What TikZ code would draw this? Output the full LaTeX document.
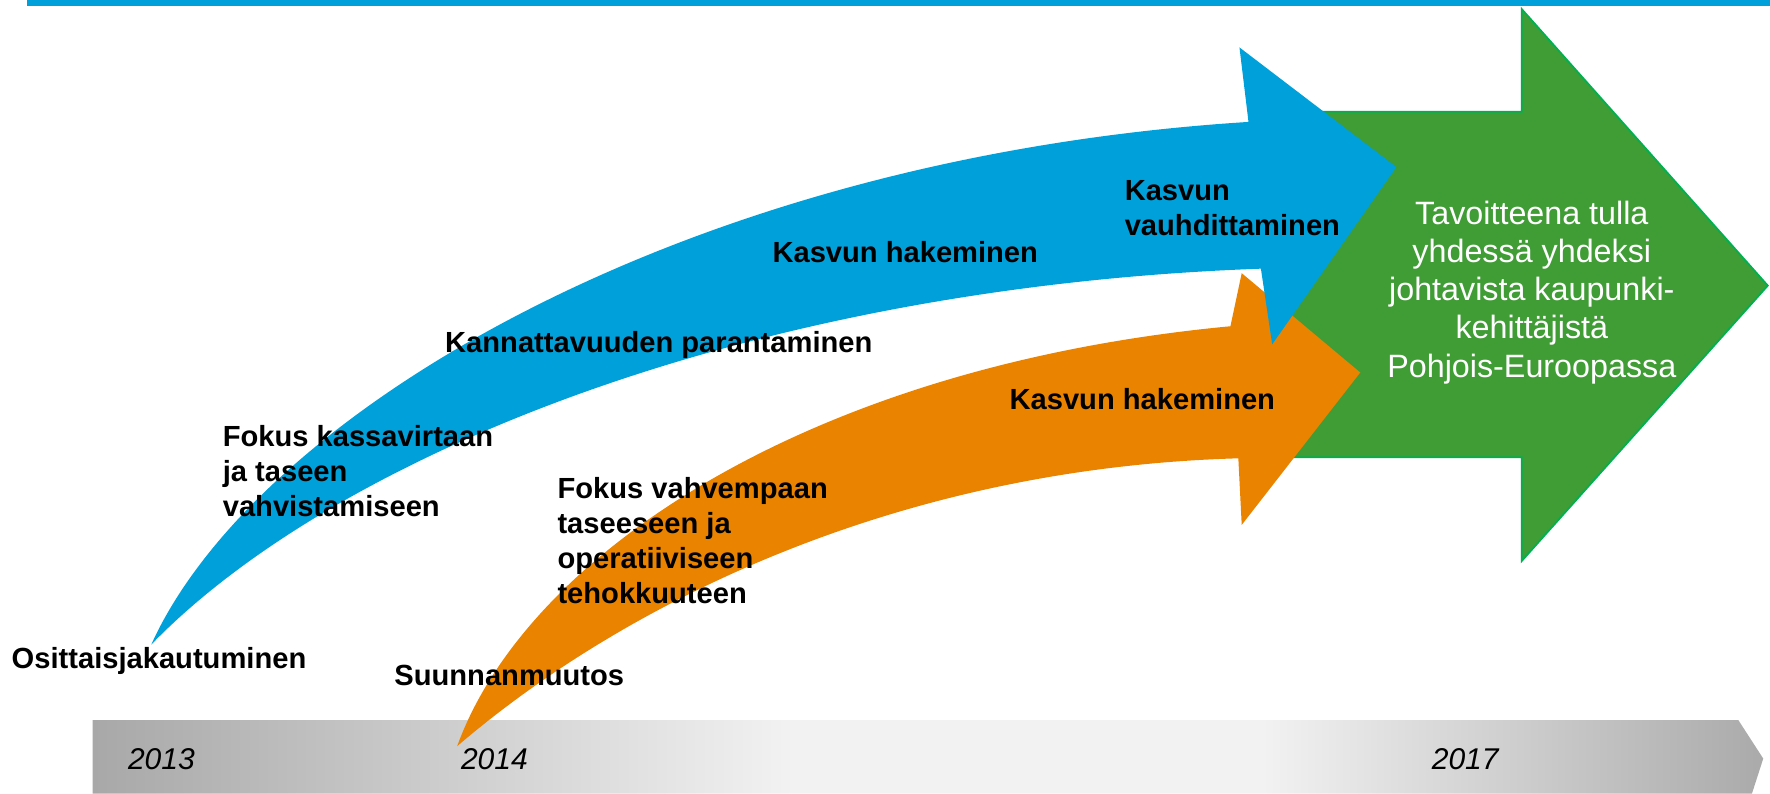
\documentclass[tikz,border=0pt]{standalone}
\usepackage{fontspec}
\setmainfont{Liberation Sans}
\definecolor{cblue}{RGB}{0,160,218}
\definecolor{corange}{RGB}{233,131,0}
\definecolor{cgreen}{RGB}{64,157,53}
\definecolor{cgreenline}{RGB}{0,176,80}
\definecolor{gA}{RGB}{168,168,168}
\definecolor{gB}{RGB}{242,242,242}
\definecolor{gC}{RGB}{170,170,170}
\pgfdeclarehorizontalshading{barshade}{100bp}{color(0bp)=(gA); color(25bp)=(gA); color(46bp)=(gB); color(60bp)=(gB); color(75bp)=(gC); color(100bp)=(gC)}
\tikzset{
  lbl/.style={font=\fontsize{12.9pt}{15.5pt}\selectfont\bfseries, align=left, anchor=base west, inner sep=0pt, text=black},
  yearlbl/.style={font=\fontsize{13.3pt}{16pt}\selectfont\itshape, anchor=base west, inner sep=0pt, text=black},
  goallbl/.style={font=\fontsize{14.3pt}{16.9pt}\selectfont, align=center, anchor=base, inner sep=0pt, text=white}
}
\begin{document}
\begin{tikzpicture}[x=0.5pt,y=-0.5pt]
\useasboundingbox (0,0) rectangle (1568,703);
% top band
\fill[cblue] (24,0) rectangle (1568,5);
% timeline bar
\path[shading=barshade, shading angle=0] (82,638) -- (1540,638) -- (1562,672) -- (1552,703) -- (82,703) -- cycle;
% green arrow
\filldraw[fill=cgreen, draw=cgreenline, line width=0.8pt] (1140,99) -- (1348,99) -- (1348,8) -- (1566,253) -- (1348,497) -- (1348,405) -- (1140,405) -- cycle;
% orange arrow
\fill[corange] (405,661) .. controls (465,495) and (710,325) .. (1090,289) -- (1100,242) -- (1205,330) -- (1100,465) -- (1097,406) .. controls (780,415) and (540,545) .. (405,661) -- cycle;
% blue arrow
\fill[cblue] (134,571) .. controls (225,370) and (600,140) .. (1106,108) -- (1098,42) -- (1237,148) -- (1127,305) -- (1117,238) .. controls (650,255) and (290,410) .. (134,571) -- cycle;
% years
\node[yearlbl] (y2013) at (113,681.5) {2013};
\node[yearlbl] (y2014) at (408,681.5) {2014};
\node[yearlbl] (y2017) at (1268,681.5) {2017};
% labels (multi-line nodes: base = last line)
\node[lbl] (osit) at (10,592.5) {Osittaisjakautuminen};
\node[lbl] (suun) at (349,607) {Suunnanmuutos};
\node[lbl] (fokus1) at (197,457.7) {Fokus kassavirtaan\\ja taseen\\vahvistamiseen};
\node[lbl] (kann) at (394,312.4) {Kannattavuuden parantaminen};
\node[lbl] (kasvb) at (684,232.7) {Kasvun hakeminen};
\node[lbl] (kasvv) at (996,209) {Kasvun\\vauhdittaminen};
\node[lbl] (fokus2) at (493.5,535) {Fokus vahvempaan\\taseeseen ja\\operatiiviseen\\tehokkuuteen};
\node[lbl] (kasvo) at (894,362.6) {Kasvun hakeminen};
\node[goallbl] (goal) at (1357,334) {Tavoitteena tulla\\yhdessä yhdeksi\\johtavista kaupunki-\\kehittäjistä\\Pohjois-Euroopassa};
\end{tikzpicture}
\end{document}
